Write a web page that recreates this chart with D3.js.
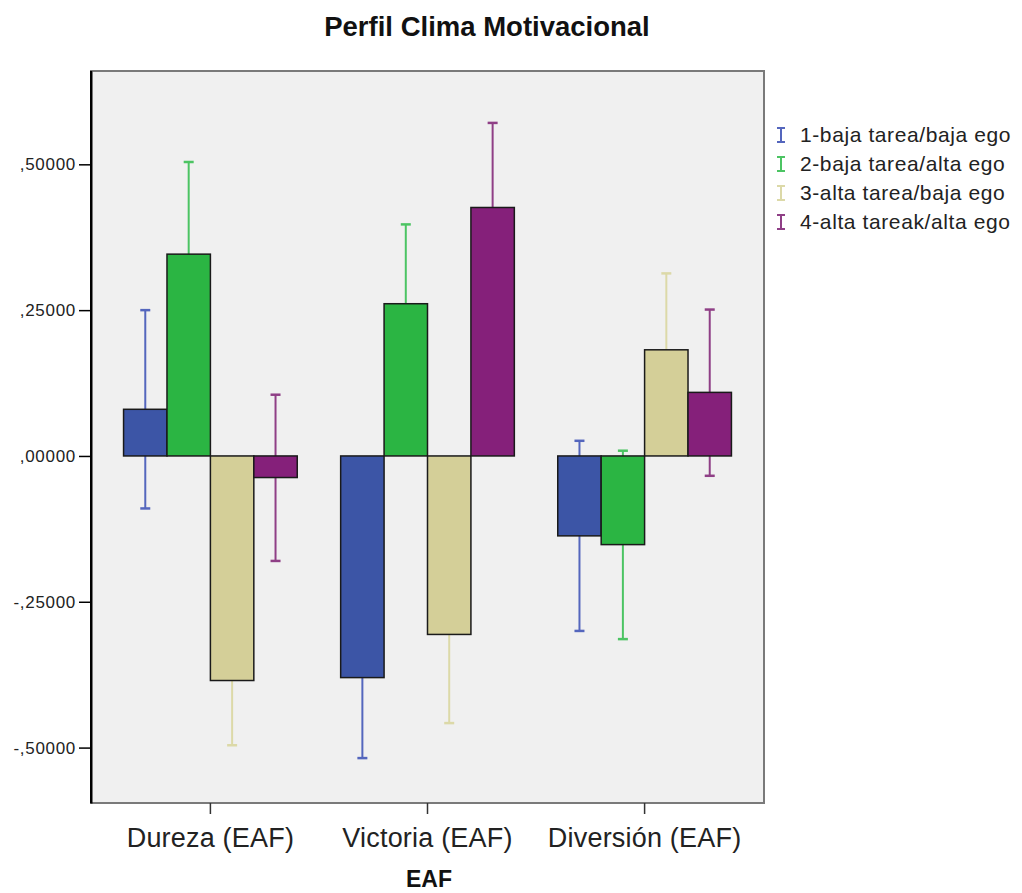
<!DOCTYPE html>
<html><head><meta charset="utf-8">
<script src="https://cdn.jsdelivr.net/npm/d3@7"></script>
<style>body{margin:0;background:#fff}svg{display:block}text{font-family:"Liberation Sans",Arial,sans-serif}</style>
</head><body>
<svg id="chart" width="1022" height="893"></svg>
<script>
// ---- data ----
const categories = ["Dureza (EAF)", "Victoria (EAF)", "Diversión (EAF)"];
const seriesNames = ["1-baja tarea/baja ego", "2-baja tarea/alta ego", "3-alta tarea/baja ego", "4-alta tareak/alta ego"];
// means per series, in category order
const means = [
  [0.080, -0.380, -0.137],
  [0.346,  0.261, -0.152],
  [-0.385, -0.306, 0.182],
  [-0.037,  0.426, 0.109]
];
// error bar lower / upper bounds
const lower = [
  [-0.090, -0.518, -0.300],
  [0.188,  0.125, -0.314],
  [-0.496, -0.458, 0.051],
  [-0.180,  0.281, -0.034]
];
const upper = [
  [0.250, -0.242, 0.026],
  [0.504,  0.397, 0.009],
  [-0.274, -0.154, 0.313],
  [0.105,  0.571, 0.251]
];
const yTicks = [-0.5, -0.25, 0, 0.25, 0.5];
const yTickLabels = ["-,50000", "-,25000", ",00000", ",25000", ",50000"];

const barColors = ["#3c55a6", "#2bb543", "#d4cf98", "#85207a"];
const errColors = ["#5466bd", "#4cc463", "#dcd9a8", "#8f3f86"];

const svg = d3.select("#chart");
const L = 91, R = 764, T = 71, B = 803;

const y = d3.scaleLinear().domain([-0.595, 0.660]).range([B, T]);
const x0 = d3.scaleBand().domain(categories).range([L, R]).paddingInner(0.2).paddingOuter(0.15);
const x1 = d3.scaleBand().domain(d3.range(seriesNames.length)).range([0, x0.bandwidth()]).padding(0);

// plot background
svg.append("rect").attr("x", L).attr("y", T).attr("width", R - L).attr("height", B - T)
  .attr("fill", "#f0f0f0").attr("stroke", "#7a7a7a").attr("stroke-width", 2);

const data = [];
seriesNames.forEach((s, si) => categories.forEach((c, ci) => data.push({si, c, m: means[si][ci], lo: lower[si][ci], hi: upper[si][ci]})));

const g = svg.append("g");
// error bars (behind bars)
const eb = g.selectAll(".eb").data(data).join("g");
const cx = d => x0(d.c) + x1(d.si) + x1.bandwidth() / 2;
eb.append("line").attr("x1", cx).attr("x2", cx).attr("y1", d => y(d.lo)).attr("y2", d => y(d.hi))
  .attr("stroke", d => errColors[d.si]).attr("stroke-width", 2);
eb.append("line").attr("x1", d => cx(d) - 5).attr("x2", d => cx(d) + 5).attr("y1", d => y(d.lo)).attr("y2", d => y(d.lo))
  .attr("stroke", d => errColors[d.si]).attr("stroke-width", 2.5);
eb.append("line").attr("x1", d => cx(d) - 5).attr("x2", d => cx(d) + 5).attr("y1", d => y(d.hi)).attr("y2", d => y(d.hi))
  .attr("stroke", d => errColors[d.si]).attr("stroke-width", 2.5);

// bars
g.selectAll(".bar").data(data).join("rect")
  .attr("x", d => x0(d.c) + x1(d.si))
  .attr("width", x1.bandwidth())
  .attr("y", d => y(Math.max(0, d.m)))
  .attr("height", d => Math.abs(y(d.m) - y(0)))
  .attr("fill", d => barColors[d.si])
  .attr("stroke", "#1a1a1a").attr("stroke-width", 1.5);

// y axis
const yAxis = d3.axisLeft(y).tickValues(yTicks).tickFormat((d, i) => yTickLabels[i]).tickSize(12).tickSizeOuter(0);
const ya = svg.append("g").attr("transform", `translate(${L},0)`).call(yAxis);
ya.select(".domain").attr("stroke", "#000").attr("stroke-width", 2);
ya.selectAll(".tick line").attr("stroke", "#000").attr("stroke-width", 1.5);
ya.selectAll(".tick text").attr("font-size", 17).attr("fill", "#222").attr("x", -15)
  .attr("font-family", "'Liberation Sans', Arial, sans-serif").attr("letter-spacing", 0.7);

// x axis
const xAxis = d3.axisBottom(x0).tickSize(11).tickSizeOuter(0);
const xa = svg.append("g").attr("transform", `translate(0,${B})`).call(xAxis);
xa.select(".domain").remove();
xa.selectAll(".tick line").attr("stroke", "#333").attr("stroke-width", 1.5);
xa.selectAll(".tick text").attr("font-size", 27).attr("fill", "#222").attr("dy", 0).attr("y", 44)
  .attr("font-family", "'Liberation Sans', Arial, sans-serif").attr("letter-spacing", 0.2);

// re-draw frame left edge on top
svg.append("line").attr("x1", L).attr("x2", L).attr("y1", T).attr("y2", B).attr("stroke", "#000").attr("stroke-width", 2);

// title
svg.append("text").attr("x", 487).attr("y", 36).attr("text-anchor", "middle")
  .attr("font-size", 27.5).attr("font-weight", "bold").attr("fill", "#111").text("Perfil Clima Motivacional");
// x title
svg.append("text").attr("x", 429).attr("y", 887).attr("text-anchor", "middle")
  .attr("font-size", 23).attr("font-weight", "bold").attr("fill", "#111").text("EAF");

// legend
const lg = svg.append("g").selectAll("g").data(seriesNames).join("g")
  .attr("transform", (d, i) => `translate(781,${135 + i * 29})`);
lg.append("line").attr("x1", 0).attr("x2", 0).attr("y1", -7).attr("y2", 7).attr("stroke", (d, i) => errColors[i]).attr("stroke-width", 2);
lg.append("line").attr("x1", -4).attr("x2", 4).attr("y1", -7).attr("y2", -7).attr("stroke", (d, i) => errColors[i]).attr("stroke-width", 2);
lg.append("line").attr("x1", -4).attr("x2", 4).attr("y1", 7).attr("y2", 7).attr("stroke", (d, i) => errColors[i]).attr("stroke-width", 2);
lg.append("text").attr("x", 19).attr("y", 7).attr("font-size", 21).attr("fill", "#222").attr("letter-spacing", 0.6).text(d => d);
</script>
</body></html>
